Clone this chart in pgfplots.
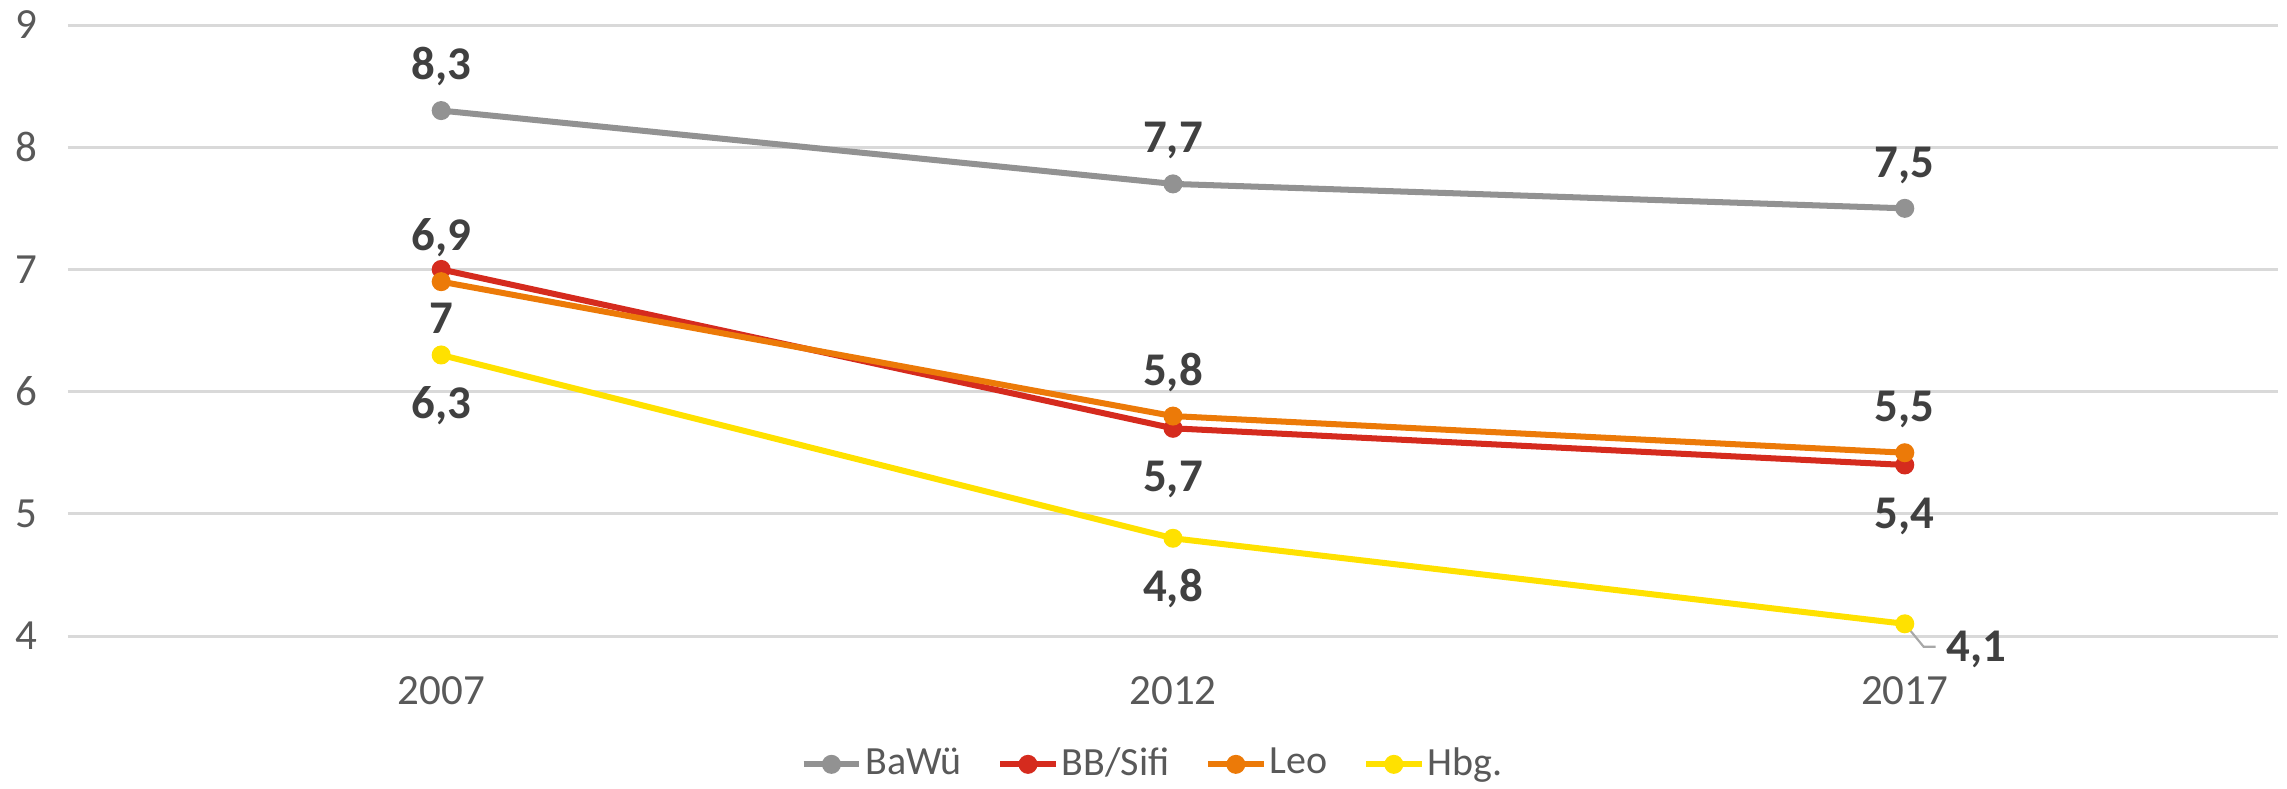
\documentclass[border=0pt]{standalone}
\usepackage{pgfplots}
\pgfplotsset{compat=1.18}
\usepackage{fontspec}
\setmainfont{Carlito}
\definecolor{cgray}{HTML}{929292}
\definecolor{cred}{HTML}{D52B1E}
\definecolor{corange}{HTML}{EC7A08}
\definecolor{cyellow}{HTML}{FFE100}
\definecolor{cgrid}{HTML}{D9D9D9}
\definecolor{ctick}{HTML}{595959}
\definecolor{clabel}{HTML}{404040}
\pgfplotsset{/pgf/number format/assume math mode=true}
\begin{document}
\begin{tikzpicture}
\useasboundingbox (-15.81pt,-35.35pt) rectangle (516.05pt,147.91pt);
\begin{axis}[
    at={(0,0)}, anchor=south west,
    scale only axis,
    width=513.95pt, height=142.09pt,
    xmin=-0.51, xmax=2.51,
    ymin=4, ymax=9,
    clip=false,
    axis line style={draw=none},
    xtick={0,1,2},
    xticklabels={2007,2012,2017},
    ytick={4,5,6,7,8,9},
    major tick length=0pt,
    ymajorgrids,
    grid style={cgrid, line width=0.7pt},
    tick label style={font=\fontsize{10}{12}\selectfont, text=ctick},
    yticklabel style={xshift=-3.7pt},
    xticklabel style={yshift=-6pt},
    every axis plot/.append style={line width=1.4pt, mark=*, mark size=1.5pt},
    point meta=explicit symbolic,
    nodes near coords,
    every node near coord/.append style={font=\bfseries\fontsize{10.9}{13}\selectfont, text=clabel, inner sep=0pt},
    legend style={at={(0.491,-0.21)}, anchor=center, draw=none, fill=none,
        legend columns=4, font=\fontsize{9.3}{11}\selectfont, text=ctick,
        nodes={inner sep=0.7pt},
        /tikz/every odd column/.append style={column sep=0pt},
        /tikz/every even column/.append style={column sep=7.5pt}},
    legend image code/.code={
        \draw[#1, mark repeat=2, mark phase=2] plot coordinates {(0pt,0pt) (6.5pt,0pt) (13pt,0pt)};
    },
]
\addplot[cgray, mark options={fill=cgray, draw=cgray},
    every node near coord/.append style={anchor=base, yshift=7.2pt}]
    coordinates {(0,8.3) [8,3] (1,7.7) [7,7] (2,7.5) [7,5]};
\addlegendentry{BaWü}
\addplot[cred, mark options={fill=cred, draw=cred},
    every node near coord/.append style={anchor=base, yshift=-14.8pt}]
    coordinates {(0,7.0) [7] (1,5.7) [5,7] (2,5.4) [5,4]};
\addlegendentry{BB/Sifi}
\addplot[corange, mark options={fill=corange, draw=corange},
    every node near coord/.append style={anchor=base, yshift=7.2pt}]
    coordinates {(0,6.9) [6,9] (1,5.8) [5,8] (2,5.5) [5,5]};
\addlegendentry{Leo}
\addplot[cyellow, mark options={fill=cyellow, draw=cyellow},
    every node near coord/.append style={anchor=base, yshift=-14.8pt}]
    coordinates {(0,6.3) [6,3] (1,4.8) [4,8] (2,4.1) [{}]};
\addlegendentry{Hbg.}
% leader line and label for the last Hbg. value
\draw[cgray!80, line width=0.5pt] (axis cs:2,4.1) -- ++(4.4pt,-5.35pt) -- ++(2.8pt,0pt);
\node[anchor=base west, font=\bfseries\fontsize{10.9}{13}\selectfont, text=clabel, inner sep=0pt]
    at ([xshift=9.5pt, yshift=-8.8pt]axis cs:2,4.1) {4,1};
\end{axis}
\end{tikzpicture}
\end{document}
